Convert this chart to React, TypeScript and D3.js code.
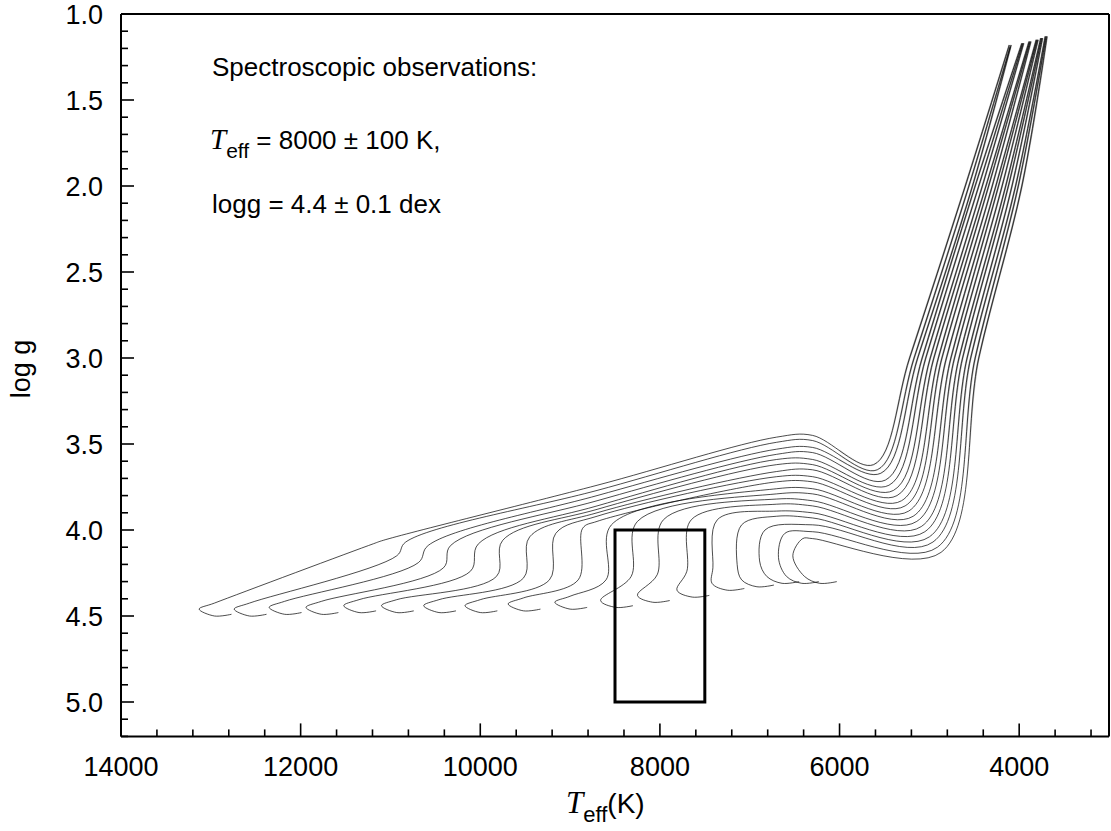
import React from 'react'
import * as d3 from 'd3'

const width = 1111
const height = 831

// axis ticks
const teffMajor = [14000, 12000, 10000, 8000, 6000, 4000]
const loggMajor = [1.0, 1.5, 2.0, 2.5, 3.0, 3.5, 4.0, 4.5, 5.0]

// spectroscopic box: Teff = 8000 +- 500, logg 4.0 .. 5.0
const boxTeff = [8500, 7500]
const boxLogg = [4.0, 5.0]

// evolutionary tracks, hottest (most massive) first
const zamsTeff = [13130, 12740, 12350, 11940, 11520, 11100, 10630, 10170, 9690, 9170, 8660, 8250, 7810, 7420, 7090, 6810, 6590, 6390]
const zamsLogg = [4.46, 4.46, 4.45, 4.45, 4.44, 4.44, 4.44, 4.44, 4.43, 4.42, 4.41, 4.38, 4.35, 4.31, 4.29, 4.27, 4.27, 4.27]
const hookBotTeff = [11190, 10930, 10690, 10410, 10110, 9820, 9520, 9230, 8910, 8600, 8320, 8030, 7700, 7410, 7140, 6890, 6680, 6520]
const hookBotLogg = [4.08, 4.15, 4.19, 4.22, 4.24, 4.27, 4.28, 4.29, 4.29, 4.29, 4.27, 4.26, 4.24, 4.22, 4.20, 4.18, 4.16, 4.15]
const hookTopTeff = [11080, 10830, 10580, 10330, 10020, 9750, 9450, 9160, 8860, 8540, 8250, 7960, 7650, 7360, 7090, 6830, 6610, 6410]
const hookTopLogg = [4.06, 4.07, 4.09, 4.09, 4.08, 4.06, 4.04, 4.02, 3.99, 3.97, 3.95, 3.94, 3.94, 3.94, 3.97, 4.00, 4.02, 4.05]
// logg where each track crosses Teff = 8700 K, 6700 K and 6300 K
const crossTeff = 8700
const crossLogg = [3.74, 3.77, 3.80, 3.83, 3.86, 3.88, 3.90, 3.92, 3.95, null, null, null, null, null, null, null, null, null]
const plateauTeff = 6700
const plateauLogg = [3.46, 3.49, 3.53, 3.56, 3.59, 3.62, 3.66, 3.69, 3.72, 3.76, 3.79, 3.82, 3.85, 3.89, 3.92, null, null, null]
const kneeTeff = 6300
const kneeLogg = [3.45, 3.48, 3.52, 3.55, 3.59, 3.62, 3.65, 3.69, 3.72, 3.76, 3.79, 3.83, 3.86, 3.90, 3.93, 3.97, 4.01, 4.05]
// base of the red giant branch
const baseTeff = [5620, 5580, 5540, 5490, 5450, 5400, 5360, 5310, 5270, 5230, 5180, 5140, 5090, 5050, 5000, 4960, 4910, 4870]
const baseLogg = [3.62, 3.65, 3.67, 3.71, 3.74, 3.77, 3.80, 3.83, 3.86, 3.89, 3.92, 3.95, 3.98, 4.01, 4.04, 4.07, 4.10, 4.13]
// Teff on the giant branch at logg 3.0 and 2.0, then the top of the branch
const rgbLevels = [3.0, 2.0]
const rgb30Teff = [5220, 5170, 5130, 5080, 5040, 4990, 4950, 4900, 4860, 4810, 4760, 4720, 4670, 4630, 4580, 4540, 4490, 4450]
const rgb20Teff = [4600, 4560, 4520, 4490, 4450, 4410, 4370, 4340, 4300, 4260, 4230, 4190, 4150, 4120, 4080, 4040, 4010, 3970]
const rgbTipTeff = [4110, 4100, 4090, 3970, 3960, 3950, 3890, 3880, 3870, 3810, 3800, 3790, 3760, 3750, 3740, 3710, 3700, 3690]
const rgbTipLogg = [1.18, 1.19, 1.18, 1.17, 1.17, 1.17, 1.16, 1.16, 1.16, 1.15, 1.15, 1.15, 1.14, 1.14, 1.14, 1.13, 1.13, 1.13]

const sans = '"Liberation Sans", Arial, Helvetica, sans-serif'
const serif = '"Liberation Serif", "Times New Roman", serif'

const App = () => {
  const left = 121
  const right = 1109
  const top = 14
  const bottom = 736.4

  const x = d3.scaleLinear().domain([14000, 3000]).range([left, right])
  const y = d3.scaleLinear().domain([1.0, 5.2]).range([top, bottom])

  const teffMinor = d3.range(14000, 2999, -400).filter(t => t % 2000 !== 0)
  const loggMinor = d3.range(11, 53).map(v => v / 10).filter(v => Math.round(v * 10) % 5 !== 0)

  const line = d3.line<[number, number]>()
    .x(d => x(d[0]))
    .y(d => y(d[1]))
    .curve(d3.curveCatmullRom.alpha(0.5))

  // build each track from the values read above
  const tracks = zamsTeff.map((zt, i) => {
    const zg = zamsLogg[i]
    const pts: [number, number][] = [
      [zt - 360, zg + 0.03],
      [zt - 170, zg + 0.04],
      [zt, zg],
    ]
    if (zt - hookBotTeff[i] > 400) pts.push([zt - 170, zg - 0.035])
    pts.push([hookBotTeff[i], hookBotLogg[i]], [hookTopTeff[i], hookTopLogg[i]])
    if (crossLogg[i] != null) pts.push([crossTeff, crossLogg[i] as number])
    if (plateauLogg[i] != null) pts.push([plateauTeff, plateauLogg[i] as number])
    pts.push([kneeTeff, kneeLogg[i]])
    pts.push([baseTeff[i], baseLogg[i]])
    pts.push([rgb30Teff[i], rgbLevels[0]], [rgb20Teff[i], rgbLevels[1]])
    pts.push([rgbTipTeff[i], rgbTipLogg[i]])
    return pts
  })

  return (
    <svg width={width} height={height} style={{ position: 'absolute', left: 0, top: 0, background: '#fff' }}>
      <defs>
        <linearGradient id="rgb-fade" gradientUnits="userSpaceOnUse" x1={0} y1={y(2.9)} x2={0} y2={y(3.75)}>
          <stop offset="0" stopColor="#fff" />
          <stop offset="1" stopColor="#000" />
        </linearGradient>
        <mask id="rgb-mask">
          <rect x={x(6000)} y={0} width={right - x(6000)} height={height} fill="url(#rgb-fade)" />
        </mask>
      </defs>

      {/* tracks */}
      <g fill="none" stroke="#000" strokeWidth={1} strokeOpacity={0.7}>
        {tracks.map((t, i) => <path key={i} d={line(t) || ''} />)}
      </g>
      {/* the giant branch is drawn densely in the original */}
      <g fill="none" stroke="#000" strokeWidth={1.8} strokeOpacity={0.4} mask="url(#rgb-mask)">
        {tracks.map((t, i) => <path key={i} d={line(t) || ''} />)}
      </g>

      {/* observation box */}
      <rect
        x={x(boxTeff[0])}
        y={y(boxLogg[0])}
        width={x(boxTeff[1]) - x(boxTeff[0])}
        height={y(boxLogg[1]) - y(boxLogg[0])}
        fill="none" stroke="#000" strokeWidth={3}
      />

      {/* frame */}
      <g stroke="#000" strokeWidth={2} fill="none">
        <line x1={left} x2={right} y1={top} y2={top} />
        <line x1={right} x2={right} y1={top} y2={bottom} />
        <line x1={left} x2={left} y1={top} y2={bottom} />
        <line x1={left} x2={right} y1={bottom} y2={bottom} />
      </g>

      {/* x ticks */}
      <g stroke="#000" strokeWidth={1.6}>
        {teffMajor.map(t => <line key={t} x1={x(t)} x2={x(t)} y1={bottom} y2={bottom - 13} />)}
        {teffMinor.map(t => <line key={t} x1={x(t)} x2={x(t)} y1={bottom} y2={bottom - 7} />)}
      </g>
      <g fontFamily={sans} fontSize={27} textAnchor="middle" fill="#000">
        {teffMajor.map(t => <text key={t} x={x(t)} y={bottom + 40}>{t}</text>)}
      </g>

      {/* y ticks */}
      <g stroke="#000" strokeWidth={1.6}>
        {loggMajor.map(v => <line key={v} x1={left} x2={left + 13} y1={y(v)} y2={y(v)} />)}
        {loggMinor.map(v => <line key={v} x1={left} x2={left + 7} y1={y(v)} y2={y(v)} />)}
      </g>
      <g fontFamily={sans} fontSize={27} textAnchor="end" fill="#000">
        {loggMajor.map(v => <text key={v} x={103} y={y(v) + 9.7}>{v.toFixed(1)}</text>)}
      </g>

      {/* axis titles */}
      <text transform="translate(30,369) rotate(-90)" fontFamily={sans} fontSize={27} textAnchor="middle">log g</text>
      <text x={566} y={813} fontFamily={sans} fontSize={28}>
        <tspan fontFamily={serif} fontStyle="italic" fontSize={31}>T</tspan>
        <tspan fontSize={22} dy={9}>eff</tspan>
        <tspan dy={-9}>(K)</tspan>
      </text>

      {/* annotation */}
      <g fontFamily={sans} fontSize={26} fill="#000">
        <text x={212} y={76}>Spectroscopic observations:</text>
        <text x={210} y={149}>
          <tspan fontFamily={serif} fontStyle="italic" fontSize={29}>T</tspan>
          <tspan fontSize={21} dy={9}>eff</tspan>
          <tspan dy={-9}> = 8000 ± 100 K,</tspan>
        </text>
        <text x={212} y={213}>logg = 4.4 ± 0.1 dex</text>
      </g>
    </svg>
  )
}

export default App
